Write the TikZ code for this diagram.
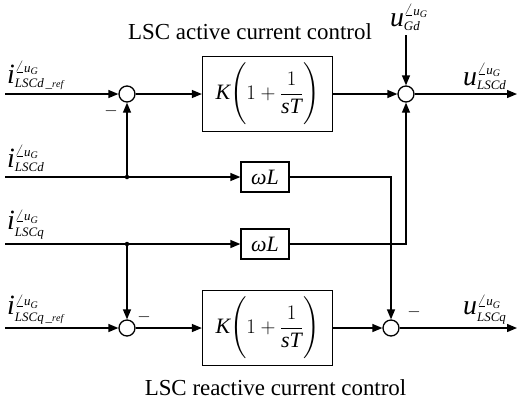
\documentclass[tikz,border=0pt]{standalone}
\usepackage{amsmath}
\usepackage{fontspec}
\setmainfont{Liberation Serif}
\DeclareSymbolFont{letters}{TU}{\rmdefault}{m}{it}
\DeclareSymbolFont{operators}{TU}{\rmdefault}{m}{n}
\Umathchardef\omega="0 "1 "03C9
\DeclareMathSizes{28}{28}{13}{10}
\usepackage{tikz}
\usetikzlibrary{arrows.meta}
\tikzset{
  blk/.style={rectangle, draw, line width=1.3bp, minimum width=130bp, minimum height=75bp,
              inner sep=0pt, font=\fontsize{22}{28.6}\selectfont},
  gain/.style={rectangle, draw, line width=1.3bp, minimum width=48bp, minimum height=30bp,
               inner sep=0pt, font=\fontsize{22}{26}\selectfont},
  sum/.style={circle, draw, line width=1.3bp, minimum size=16bp, inner sep=0pt},
  jdot/.style={circle, fill, minimum size=4.5bp, inner sep=0pt},
  sig/.style={-{Triangle[length=10bp,width=8bp]}, line width=1.3bp},
  lbl/.style={inner sep=0pt, font=\fontsize{28}{30}\selectfont},
  ttl/.style={inner sep=0pt, font=\fontsize{23}{27}\selectfont},
  sgn/.style={inner sep=0pt, font=\fontsize{18}{20}\selectfont},
}

\begin{document}
\begin{tikzpicture}[x=1bp,y=-1bp]
  \useasboundingbox (0,0) rectangle (517,402);
  \node[sum] (s1) at (127,94) {};
  \node[sum] (s2) at (406,94) {};
  \node[sum] (s3) at (127,328) {};
  \node[sum] (s4) at (391,328) {};
  \node[blk] (kd) at (267.5,94) {$K\Biggl(1+\dfrac{1}{sT}\Biggr)$};
  \node[blk] (kq) at (267.5,328) {$K\Biggl(1+\dfrac{1}{sT}\Biggr)$};
  \node[gain] (wd) at (265,177) {$\omega L$};
  \node[gain] (wq) at (265,244) {$\omega L$};
  \node[jdot] (jd) at (127,177) {};
  \node[jdot] (jq) at (127,244) {};
  \coordinate (idref) at (5,94);
  \coordinate (id) at (5,177);
  \coordinate (iq) at (5,244);
  \coordinate (iqref) at (5,328);
  \coordinate (ugd) at (406,35);
  \coordinate (ud) at (517,94);
  \coordinate (uq) at (517,328);

  \node[ttl] (tact) at (250,32) {LSC active current control};
  \node[ttl] (treact) at (275.5,388) {LSC reactive current control};
  \node[lbl,anchor=south west] (lidref) at (7,90) {$i_{LSCd\,\_{\scriptscriptstyle ref}}^{\angle u_G}$};
  \node[lbl,anchor=south west] (lid) at (7,172) {$i_{LSCd}^{\angle u_G}$};
  \node[lbl,anchor=south west] (liq) at (7,239) {$i_{LSCq}^{\angle u_G}$};
  \node[lbl,anchor=south west] (liqref) at (7,324) {$i_{LSCq\,\_{\scriptscriptstyle ref}}^{\angle u_G}$};
  \node[lbl,anchor=south] (lugd) at (409,31) {$u_{Gd}^{\angle u_G}$};
  \node[lbl,anchor=south west] (lud) at (463,90) {$u_{LSCd}^{\angle u_G}$};
  \node[lbl,anchor=south west] (luq) at (463,324) {$u_{LSCq}^{\angle u_G}$};
  \node[sgn] (m1) at (111,111) {$-$};
  \node[sgn] (m3) at (144,317) {$-$};
  \node[sgn] (m4) at (414,312) {$-$};

  \draw[sig] (idref) -- (s1);\draw[sig] (s1) -- (kd);\draw[sig] (kd) -- (s2);\draw[sig] (s2) -- (ud);
  \draw[sig] (ugd) -- (s2);\draw[sig] (jd) -- (s1);\draw[sig] (id) -- (wd);\draw[sig] (wd) -| (s4);
  \draw[sig] (iq) -- (wq);\draw[sig] (wq) -| (s2);\draw[sig] (jq) -- (s3);
  \draw[sig] (iqref) -- (s3);\draw[sig] (s3) -- (kq);\draw[sig] (kq) -- (s4);\draw[sig] (s4) -- (uq);
\end{tikzpicture}
\end{document}
